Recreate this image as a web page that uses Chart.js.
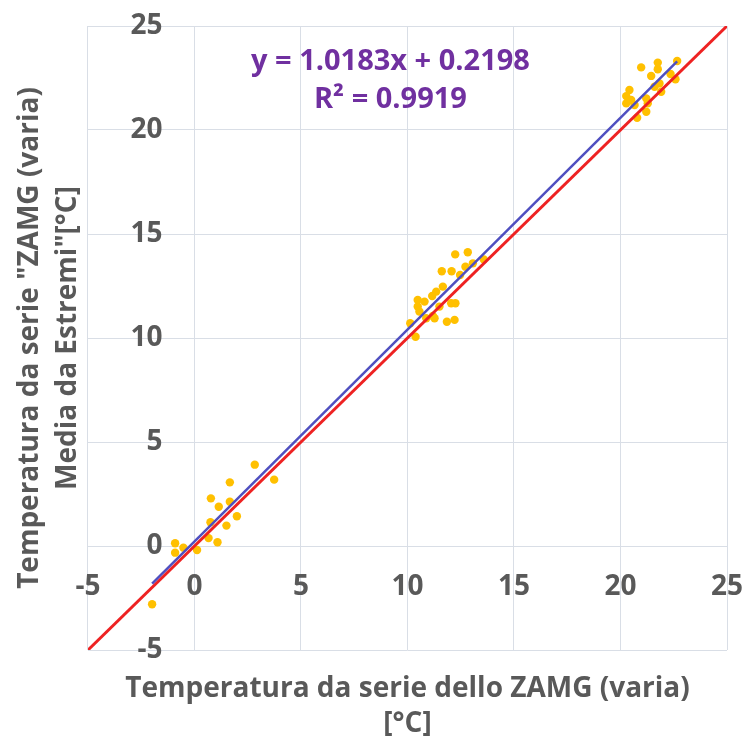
<!DOCTYPE html>
<html>
<head>
<meta charset="utf-8">
<script src="https://cdn.jsdelivr.net/npm/chart.js@4"></script>
<style>
  html, body { margin: 0; padding: 0; background: #fff; }
  #wrap { width: 746px; height: 742px; }
</style>
</head>
<body>
<div id="wrap"><canvas id="chart"></canvas></div>
<script>
// observed pairs: ZAMG series (x) vs "media da estremi" (y), deg C
const zamgX = [
  2.83, 3.74, 1.66, 0.77, 1.66, 1.14, 1.99, 0.75, 1.50, 0.66, 1.08, 0.12, -0.91, -0.91, -0.52, -1.99,
  12.24, 12.83, 11.61, 12.07, 12.72, 13.07, 13.58, 12.47, 11.66, 11.35, 11.16, 10.80, 10.48, 10.48,
  10.56, 12.05, 12.25, 11.50, 11.19, 10.88, 11.27, 11.85, 12.21, 10.13, 10.38,
  20.97, 21.75, 22.66, 21.75, 21.44, 22.35, 22.58, 21.83, 21.60, 21.91, 20.42, 20.27, 20.50, 20.27,
  20.66, 21.21, 21.28, 21.21, 20.78
];
const mediaY = [
  3.91, 3.19, 3.06, 2.29, 2.13, 1.89, 1.43, 1.14, 0.98, 0.38, 0.18, -0.19, 0.13, -0.32, -0.08, -2.80,
  14.02, 14.12, 13.21, 13.21, 13.43, 13.59, 13.78, 13.03, 12.47, 12.23, 12.02, 11.75, 11.83, 11.51,
  11.27, 11.67, 11.67, 11.51, 11.06, 10.95, 10.95, 10.78, 10.87, 10.71, 10.06,
  23.01, 23.24, 23.32, 22.92, 22.60, 22.69, 22.44, 22.24, 22.08, 21.84, 21.92, 21.63, 21.44, 21.28,
  21.20, 21.52, 21.28, 20.88, 20.59
];

const trendSlope = 1.0183;
const trendIntercept = 0.2198;
const rSquared = 0.9919;

const axisMin = -5;
const axisMax = 25;
const axisStep = 5;

const GREY = "#595959";
const FONT = "'Open Sans', sans-serif";

const points = zamgX.map((x, i) => ({ x: x, y: mediaY[i] }));

const xLo = Math.min(...zamgX);
const xHi = Math.max(...zamgX);
const trend = [
  { x: xLo, y: trendSlope * xLo + trendIntercept },
  { x: xHi, y: trendSlope * xHi + trendIntercept }
];
const identity = [
  { x: axisMin, y: axisMin },
  { x: axisMax, y: axisMax }
];

// equation label, drawn in data space above the 20-25 band
const equationLabel = {
  id: "equationLabel",
  afterDatasetsDraw(chart) {
    const { ctx, scales } = chart;
    const cx = scales.x.getPixelForValue(9.2);
    ctx.save();
    ctx.fillStyle = "#7030A0";
    ctx.font = "bold 29px " + FONT;
    ctx.textAlign = "center";
    ctx.textBaseline = "middle";
    ctx.fillText("y = " + trendSlope.toFixed(4) + "x + " + trendIntercept.toFixed(4), cx, scales.y.getPixelForValue(23.3));
    ctx.fillText("R\u00B2 = " + rSquared.toFixed(4), cx, scales.y.getPixelForValue(21.45));
    ctx.restore();
  }
};

function tickFont() {
  return { family: FONT, size: 28, weight: "bold" };
}

new Chart(document.getElementById("chart"), {
  type: "scatter",
  data: {
    datasets: [
      {
        label: "Identity",
        type: "line",
        data: identity,
        borderColor: "#EE2222",
        borderWidth: 3,
        pointRadius: 0,
        order: 2
      },
      {
        label: "Trend",
        type: "line",
        data: trend,
        borderColor: "#4F4FC0",
        borderWidth: 2.5,
        pointRadius: 0,
        order: 1
      },
      {
        label: "Data",
        data: points,
        backgroundColor: "#FFC000",
        borderWidth: 0,
        pointRadius: 4.2,
        order: 3
      }
    ]
  },
  options: {
    responsive: true,
    maintainAspectRatio: false,
    animation: false,
    layout: { padding: { left: 7, right: 19, top: 26, bottom: 0 } },
    plugins: {
      legend: { display: false },
      tooltip: { enabled: false }
    },
    scales: {
      x: {
        type: "linear",
        min: axisMin,
        max: axisMax,
        position: { y: 0 },
        // invisible tick marks just push the labels down off the zero line
        grid: { color: "#D9DEE6", drawTicks: true, tickLength: 22, tickColor: "rgba(0,0,0,0)" },
        border: { display: false },
        ticks: { stepSize: axisStep, color: GREY, font: tickFont(), padding: 2 }
      },
      y: {
        type: "linear",
        min: axisMin,
        max: axisMax,
        // labels sit right-aligned a little left of the x = 0 line
        position: { x: -1.5 },
        grid: { color: "#D9DEE6", drawTicks: false },
        border: { display: false },
        ticks: { stepSize: axisStep, color: GREY, font: tickFont(), padding: 0 }
      },
      xTitle: {
        type: "linear",
        position: "bottom",
        grid: { display: false, drawTicks: false },
        border: { display: false },
        ticks: { display: false },
        title: {
          display: true,
          text: ["Temperatura da serie dello ZAMG (varia)", "[\u00B0C]"],
          color: GREY,
          font: { family: FONT, size: 28, weight: "bold", lineHeight: 1.25 },
          padding: { top: 22, bottom: 0 }
        }
      },
      yTitle: {
        type: "linear",
        position: "left",
        grid: { display: false, drawTicks: false },
        border: { display: false },
        ticks: { display: false },
        title: {
          display: true,
          text: ["Temperatura da serie \"ZAMG (varia)", "Media da Estremi\"[\u00B0C]"],
          color: GREY,
          font: { family: FONT, size: 28, weight: "bold", lineHeight: 1.357 },
          padding: { top: 4, bottom: 1 }
        }
      }
    }
  },
  plugins: [equationLabel]
});
</script>
</body>
</html>
